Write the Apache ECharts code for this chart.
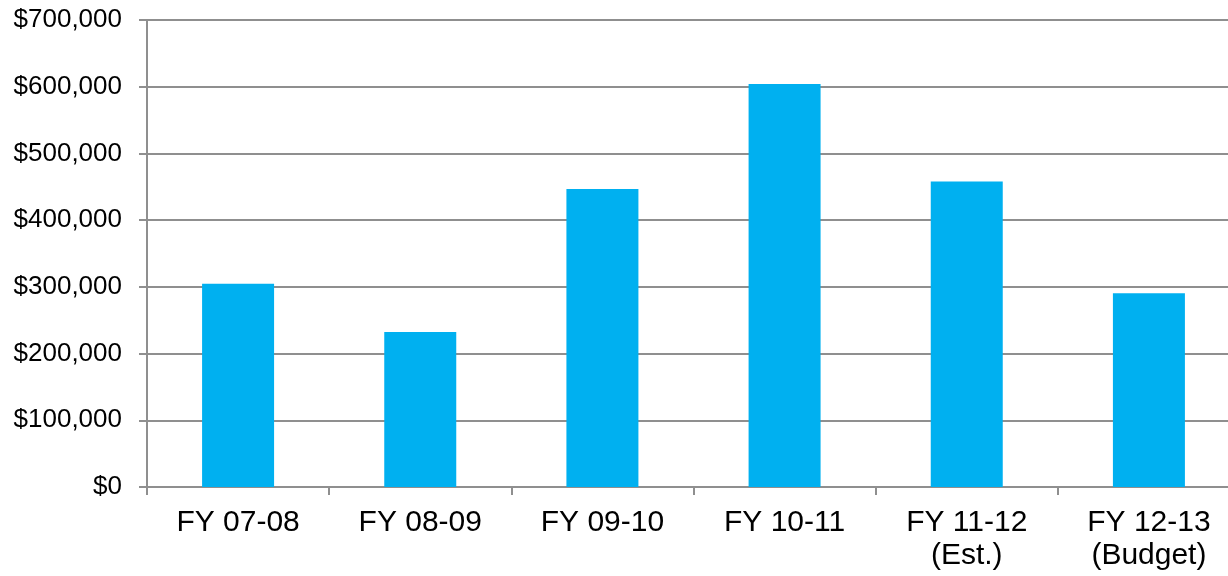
<!DOCTYPE html>
<html>
<head>
<meta charset="utf-8">
<style>
  html, body { margin: 0; padding: 0; background: #ffffff; }
  #chart { width: 1228px; height: 576px; }
</style>
<script src="https://cdn.jsdelivr.net/npm/echarts@6/dist/echarts.min.js"></script>
</head>
<body>
<div id="chart"></div>
<script>
// Fiscal years and their amounts
const categories = ['FY 07-08', 'FY 08-09', 'FY 09-10', 'FY 10-11', 'FY 11-12\n(Est.)', 'FY 12-13\n(Budget)'];
const amounts = [304500, 232500, 446500, 604000, 458000, 290500];
const yTicks = { min: 0, max: 700000, interval: 100000 };

const axisGray = '#8f8f8f';
const fmt = v => '$' + v.toLocaleString('en-US');

const chart = echarts.init(document.getElementById('chart'), null, { renderer: 'canvas' });
chart.setOption({
  animation: false,
  backgroundColor: '#ffffff',
  // plot area runs slightly past the right edge of the canvas
  grid: { left: 147, top: 20, right: -12, bottom: 89, outerBoundsMode: 'none' },
  xAxis: {
    type: 'category',
    data: categories,
    boundaryGap: true,
    axisLine: { show: true, lineStyle: { color: axisGray, width: 2 } },
    axisTick: { show: true, length: 8, alignWithLabel: false, lineStyle: { color: axisGray, width: 2 } },
    axisLabel: {
      color: '#000000',
      fontFamily: 'Liberation Sans',
      fontSize: 30,
      lineHeight: 33,
      margin: 19,
      interval: 0
    },
    splitLine: { show: false }
  },
  yAxis: {
    type: 'value',
    min: yTicks.min,
    max: yTicks.max,
    interval: yTicks.interval,
    axisLine: { show: true, lineStyle: { color: axisGray, width: 2 } },
    axisTick: { show: true, length: 8, lineStyle: { color: axisGray, width: 2 } },
    axisLabel: {
      color: '#000000',
      fontFamily: 'Liberation Sans',
      fontSize: 26,
      margin: 25,
      formatter: fmt
    },
    splitLine: { show: true, lineStyle: { color: axisGray, width: 2 } }
  },
  series: [{
    type: 'bar',
    data: amounts,
    barWidth: 72,
    itemStyle: { color: '#00B0F0' }
  }]
});
</script>
</body>
</html>
